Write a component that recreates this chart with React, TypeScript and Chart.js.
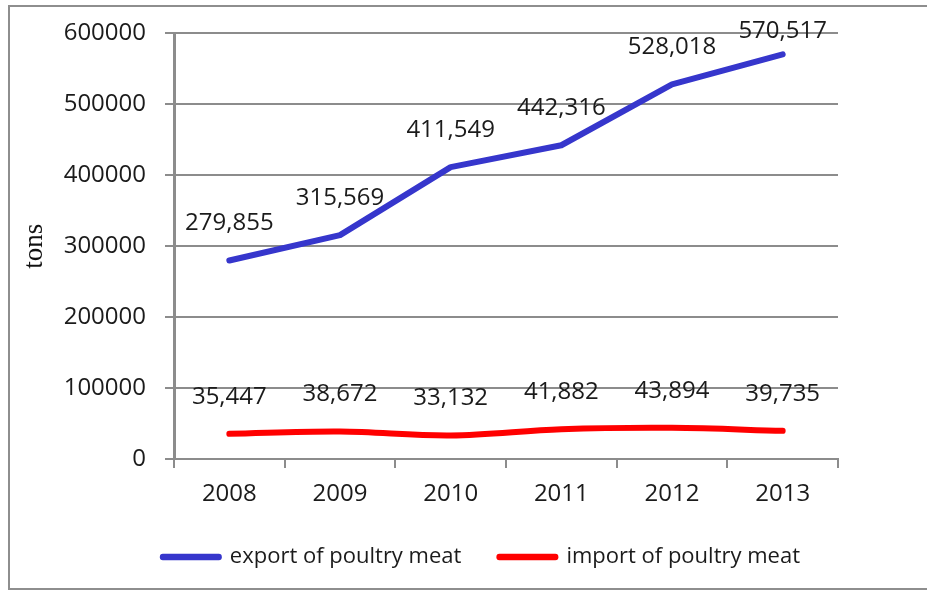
import React, { useEffect, useRef } from 'react';
import { Chart, registerables } from 'chart.js';

Chart.register(...registerables);

const years = ['2008', '2009', '2010', '2011', '2012', '2013'];
const exportTons = [279855, 315569, 411549, 442316, 528018, 570517];
const importTons = [35447, 38672, 33132, 41882, 43894, 39735];
const seriesNames = ['export of poultry meat', 'import of poultry meat'];
const seriesColors = ['#3636cc', '#ff0000'];
const yMin = 0;
const yMax = 600000;
const yStep = 100000;
const axisTitle = 'tons';

const GRID = '#8c8c8c';
const SANS = '"Open Sans", "DejaVu Sans", sans-serif';

const valueLabels = {
  id: 'valueLabels',
  afterDatasetsDraw(chart: any) {
    const ctx = chart.ctx;
    ctx.save();
    ctx.font = '24px ' + SANS;
    ctx.fillStyle = '#1b1b1b';
    ctx.textAlign = 'center';
    ctx.textBaseline = 'middle';
    chart.data.datasets.forEach((ds: any, i: number) => {
      const meta = chart.getDatasetMeta(i);
      meta.data.forEach((pt: any, j: number) => {
        const v = ds.data[j] as number;
        const y = Math.max(pt.y - 37, chart.chartArea.top - 2);
        ctx.fillText(v.toLocaleString('en-US'), pt.x, y);
      });
    });
    ctx.restore();
  },
};

export default function App() {
  const ref = useRef<HTMLCanvasElement>(null);

  useEffect(() => {
    const chart = new Chart(ref.current as HTMLCanvasElement, {
      type: 'line',
      data: {
        labels: years,
        datasets: [
          {
            label: seriesNames[0],
            data: exportTons,
            borderColor: seriesColors[0],
            backgroundColor: seriesColors[0],
            borderWidth: 6,
            pointRadius: 0,
            tension: 0,
            borderCapStyle: 'round',
            borderJoinStyle: 'round',
          },
          {
            label: seriesNames[1],
            data: importTons,
            borderColor: seriesColors[1],
            backgroundColor: seriesColors[1],
            borderWidth: 6,
            pointRadius: 0,
            tension: 0.35,
            borderCapStyle: 'round',
            borderJoinStyle: 'round',
          },
        ],
      },
      options: {
        responsive: false,
        animation: false,
        devicePixelRatio: 1,
        layout: { padding: { left: 0, right: 89, top: 32, bottom: 12 } },
        plugins: {
          tooltip: { enabled: false },
          legend: {
            position: 'bottom',
            align: 'end',
            labels: {
              boxWidth: 56,
              boxHeight: 0.5,
              padding: 38,
              color: '#1b1b1b',
              font: { family: SANS, size: 22 },
            },
          },
        },
        scales: {
          x: {
            offset: true,
            grid: {
              offset: true,
              drawOnChartArea: false,
              drawTicks: true,
              tickLength: 9,
              color: GRID,
              lineWidth: 2,
            },
            border: { display: true, color: GRID, width: 2 },
            ticks: {
              color: '#1b1b1b',
              padding: 12,
              font: { family: SANS, size: 24 },
              maxRotation: 0,
            },
            afterFit: (s: any) => {
              s.height = 49;
            },
          },
          y: {
            min: yMin,
            max: yMax,
            ticks: {
              stepSize: yStep,
              color: '#1b1b1b',
              padding: 19,
              font: { family: SANS, size: 24 },
              callback: (v: any) => String(v),
            },
            grid: {
              color: GRID,
              lineWidth: 2,
              drawTicks: true,
              tickLength: 9,
            },
            border: { display: true, color: GRID, width: 3 },
            title: {
              display: true,
              text: axisTitle,
              color: '#111',
              font: { family: '"Liberation Serif", "Times New Roman", serif', size: 27 },
              padding: { top: 19, bottom: 0 },
            },
            afterFit: (s: any) => {
              s.width = 174;
            },
          },
        },
      },
      plugins: [valueLabels],
    });
    return () => chart.destroy();
  }, []);

  return (
    <div style={{ position: 'fixed', left: 0, top: 0, width: 927, height: 590, background: '#fff' }}>
      <div
        style={{
          position: 'absolute',
          left: 8,
          top: 5,
          width: 919,
          height: 585,
          border: '2px solid #8e8e8e',
          borderRight: 'none',
          boxSizing: 'border-box',
        }}
      />
      <canvas
        ref={ref}
        width={927}
        height={590}
        style={{ position: 'absolute', left: 0, top: 0, width: 927, height: 590 }}
      />
    </div>
  );
}
